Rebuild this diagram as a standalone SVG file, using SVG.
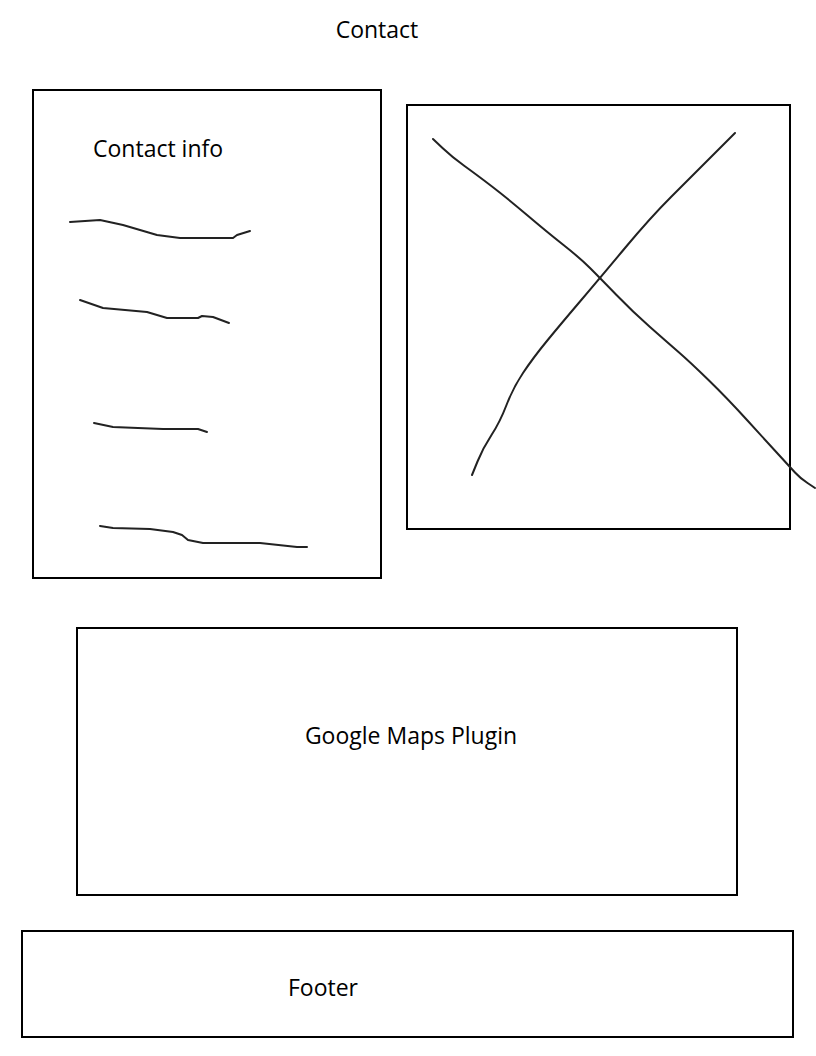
<svg xmlns="http://www.w3.org/2000/svg" width="816" height="1056" viewBox="0 0 816 1056">
<style>
.box{fill:none;stroke:#000;stroke-width:2}
.ink{fill:none;stroke:#222;stroke-width:2;stroke-linecap:round;stroke-linejoin:round}
.t{font-family:"Open Sans","Liberation Sans",sans-serif;font-size:23px;fill:#000}
</style>
<rect width="816" height="1056" fill="#fff"/>
<g id="title"><text class="t" x="377" y="38" text-anchor="middle">Contact</text></g>
<g id="contact-info">
<rect class="box" x="33" y="90" width="348" height="488"/>
<text class="t" x="93" y="157">Contact info</text>
<path class="ink" d="M70,222 L100,220 L123,225 L157,235 L180,238 L233,238 L237,235 L250,231"/>
<path class="ink" d="M80,300 L103,308 L147,312 L167,318 L198,318 L202,316 L213,317 L229,323"/>
<path class="ink" d="M94,423 L113,427 L163,429 L198,429 L207,432"/>
<path class="ink" d="M100,526 L113,528 L150,529 L173,532 L182,535 L188,540 L203,543 L260,543 L297,547 L307,547"/>
</g>
<g id="image">
<rect class="box" x="407" y="105" width="383" height="424"/>
<path class="ink" d="M433,139 L442.5,148 Q452,157 464.5,166 Q477,175 492,186.5 Q507,198 527,215 Q547,232 563.5,245 Q580,258 590,268 Q600,278 616.5,295 Q633,312 650,327 Q667,342 678.5,352 Q690,362 708.5,380 Q727,398 747,420 Q767,442 778.5,454.5 Q790,467 795,472.5 Q800,478 807.5,483 L815,488"/>
<path class="ink" d="M735,133 L714,154 Q693,175 671.5,196.5 Q650,218 625,248 Q600,278 580,301.5 Q560,325 546.5,341.5 Q533,358 523,373 Q513,388 506.5,405 Q500,422 491.5,435 Q483,448 477.5,461.5 L472,475"/>
</g>
<g id="map">
<rect class="box" x="77" y="628" width="660" height="267"/>
<text class="t" x="411" y="744" text-anchor="middle">Google Maps Plugin</text>
</g>
<g id="footer">
<rect class="box" x="22" y="931" width="771" height="106"/>
<text class="t" x="323" y="996" text-anchor="middle">Footer</text>
</g>
<g id="connectors"/>
</svg>
